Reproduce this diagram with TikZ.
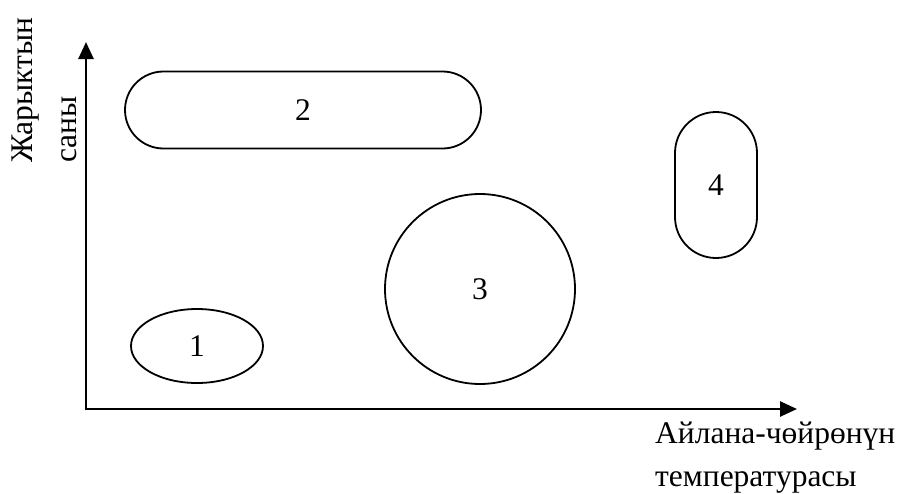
\documentclass[tikz,border=0pt]{standalone}
\usepackage{fontspec}
\setmainfont{Liberation Serif}
\usetikzlibrary{shapes.geometric,arrows.meta}
\tikzset{
  axisline/.style={line width=2.6pt,-{Triangle[length=17pt,width=15pt]}},
  shapeline/.style={draw,line width=1.8pt,inner sep=0pt},
  lbl/.style={font=\fontsize{31.5}{42}\selectfont},
}
\begin{document}
\begin{tikzpicture}[x=1pt,y=-1pt]
\useasboundingbox (0,0) rectangle (900,493);
\coordinate (O) at (86,409);
\coordinate (Ytip) at (86,42);
\coordinate (Xtip) at (797,409);
\draw[axisline] ([yshift=-1.3pt]O) -- (Ytip);
\draw[axisline] ([xshift=-1.3pt]O) -- (Xtip);
\node[shapeline,lbl,rounded corners=38.5pt,minimum width=356pt,minimum height=77pt] (s2) at (303,110) {2};
\node[shapeline,lbl,rounded corners=41pt,minimum width=82pt,minimum height=146pt] (s4) at (716,185) {4};
\node[shapeline,lbl,circle,minimum size=190pt] (s3) at (480,289) {3};
\node[shapeline,lbl,ellipse,minimum width=132pt,minimum height=74pt] (s1) at (197,346) {1};
\node[lbl,font=\fontsize{31.5}{44}\selectfont,rotate=90,align=left,inner sep=0pt,anchor=north west] (ylab) at (12,163) {Жарыктын\\саны};
\node[lbl,font=\fontsize{31.5}{43}\selectfont,align=left,inner sep=0pt,anchor=north west] (xlab) at (655,422) {Айлана-чөйрөнүн\\температурасы};
\end{tikzpicture}
\end{document}
